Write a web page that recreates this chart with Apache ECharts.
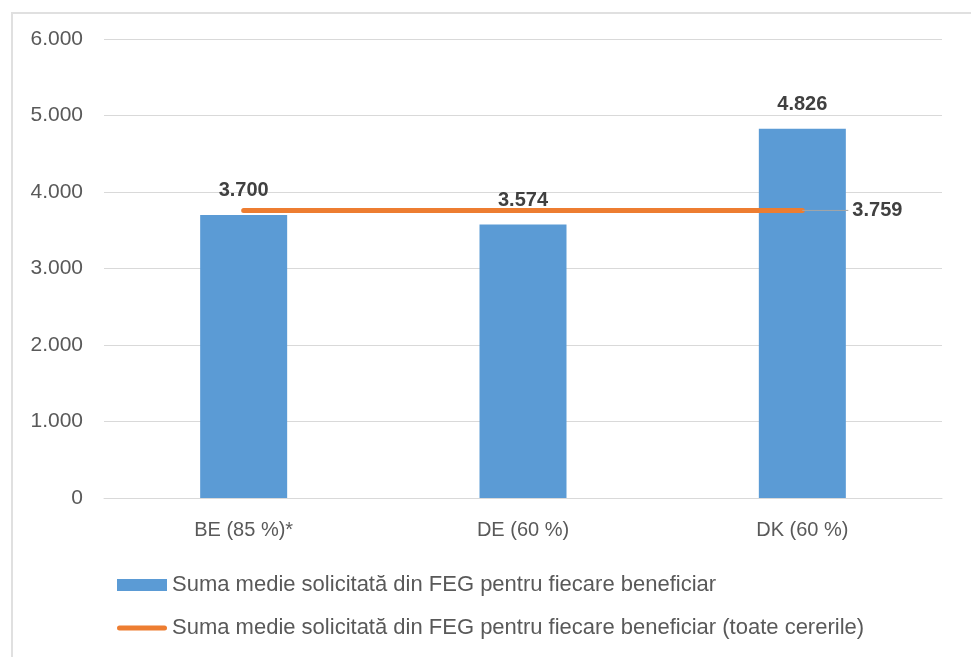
<!DOCTYPE html>
<html>
<head>
<meta charset="utf-8">
<script src="https://cdn.jsdelivr.net/npm/echarts@6/dist/echarts.min.js"></script>
<style>
html,body{margin:0;padding:0;background:#fff;}
#chart{width:971px;height:657px;position:absolute;left:0;top:0;}
#frame{position:absolute;left:11px;top:12px;width:970px;height:660px;border-left:2px solid #e0e0e0;border-top:2px solid #e0e0e0;pointer-events:none;}
</style>
</head>
<body>
<div id="chart"></div>
<div id="frame"></div>
<script>
const categories = ['BE (85 %)*', 'DE (60 %)', 'DK (60 %)'];
const barValues = [3700, 3574, 4826];
const lineValues = [3759, 3759, 3759];
const barName = 'Suma medie solicitată din FEG pentru fiecare beneficiar';
const lineName = 'Suma medie solicitată din FEG pentru fiecare beneficiar (toate cererile)';

function fmt(v){ return String(v).replace(/\B(?=(\d{3})+(?!\d))/g, '.'); }

const FONT = 'Liberation Sans';
const chart = echarts.init(document.getElementById('chart'), null, {renderer:'canvas'});
const lineData = lineValues.map((v, i) => {
  if (i === lineValues.length - 1) {
    return {
      value: v,
      label: {show: true, position: 'right', distance: 46, verticalAlign: 'middle', lineHeight: 20, padding: [0, 0, 0, 4]},
      labelLine: {show: true, lineStyle: {color: '#a6a6a6', width: 1}}
    };
  }
  return {value: v};
});
chart.setOption({
  animation: false,
  grid: {left: 104, right: 29, top: 39, bottom: 159, containLabel: false},
  legend: {
    orient: 'vertical', left: 112, top: 569, itemWidth: 50, itemHeight: 12, itemGap: 21,
    textStyle: {fontFamily: FONT, fontSize: 22, color: '#595959'},
    data: [
      {name: barName, icon: 'rect'},
      {name: lineName, icon: 'path://M2.5,0 L47.5,0 A2.5,2.5 0 0 1 47.5,5 L2.5,5 A2.5,2.5 0 0 1 2.5,0 Z'}
    ]
  },
  xAxis: {
    type: 'category', data: categories,
    axisTick: {show: false},
    axisLine: {lineStyle: {color: '#d9d9d9', width: 1}},
    axisLabel: {fontFamily: FONT, fontSize: 20, color: '#595959', margin: 22}
  },
  yAxis: {
    type: 'value', min: 0, max: 6000, interval: 1000,
    axisLine: {show: false}, axisTick: {show: false},
    splitLine: {lineStyle: {color: '#d9d9d9', width: 1}},
    axisLabel: {fontFamily: FONT, fontSize: 21, color: '#595959', margin: 21, formatter: fmt}
  },
  series: [
    {
      name: barName, type: 'bar', data: barValues, barWidth: 87,
      itemStyle: {color: '#5B9BD5'},
      label: {show: true, position: 'top', distance: 14, fontFamily: FONT, fontSize: 20, fontWeight: 'bold', color: '#404040', formatter: p => fmt(p.value)}
    },
    {
      name: lineName, type: 'line', data: lineData, symbol: 'circle', symbolSize: 0, showSymbol: true,
      lineStyle: {color: '#ED7D31', width: 5, cap: 'round'},
      itemStyle: {color: '#ED7D31'},
      label: {show: false, fontFamily: FONT, fontSize: 20, fontWeight: 'bold', color: '#404040', formatter: p => fmt(p.value)},
      z: 3
    }
  ]
});
</script>
</body>
</html>
